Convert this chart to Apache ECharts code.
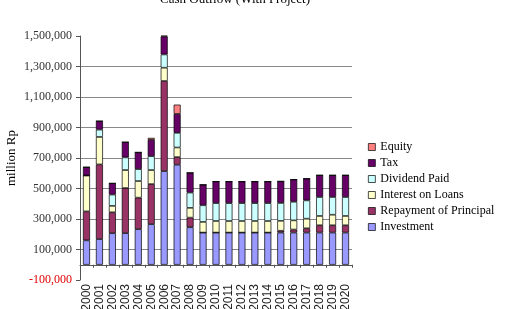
<!DOCTYPE html>
<html>
<head>
<meta charset="utf-8">
<script src="https://cdn.jsdelivr.net/npm/echarts@6/dist/echarts.min.js"></script>
<style>
  html, body { margin: 0; padding: 0; background: #fff; }
  #chart { width: 507px; height: 309px; }
</style>
</head>
<body>
<div id="chart"></div>
<script>
const years = ["2000", "2001", "2002", "2003", "2004", "2005", "2006", "2007", "2008", "2009", "2010",
    "2011", "2012", "2013", "2014", "2015", "2016", "2017", "2018", "2019", "2020"];

// million Rp
const investment = [160000, 168000, 207000, 207000, 233000, 266000, 614000, 656000, 246000, 211000, 211000,
    211000, 211000, 211000, 211000, 211000, 211000, 211000, 211000, 211000, 211000];
const repayment = [190000, 490000, 137000, 296000, 207000, 263000, 591000, 50000, 63000, 0, 0,
    0, 0, 0, 0, 12000, 20000, 28000, 48000, 48000, 48000];
const interest = [235000, 180000, 42000, 118000, 109000, 92000, 87000, 63000, 64000, 70000, 76000,
    76000, 76000, 76000, 76000, 65000, 60000, 63000, 61000, 69000, 61000];
const dividend = [0, 48000, 74000, 83000, 78000, 91000, 87000, 96000, 100000, 109000, 117000,
    117000, 117000, 117000, 117000, 117000, 122000, 120000, 124000, 116000, 124000];
const tax = [55000, 56000, 74000, 100000, 110000, 107000, 118000, 124000, 130000, 135000, 142000,
    142000, 142000, 142000, 142000, 142000, 146000, 143000, 143000, 143000, 143000];
const equity = [0, 0, 0, 0, 0, 13000, 17000, 61000, 0, 0, 0,
    0, 0, 0, 0, 0, 0, 0, 0, 0, 0];

const chart = echarts.init(document.getElementById("chart"));
const serif = "'Liberation Serif', 'DejaVu Serif', serif";

function fmt(v) {
    return Number(v).toLocaleString("en-US");
}

function stackSeries(name, data, color) {
    return {
        name: name,
        type: "bar",
        stack: "out",
        barWidth: 7,
        data: data,
        itemStyle: { color: color, borderColor: "#000", borderWidth: 0.7 }
    };
}

const option = {
    animation: false,
    title: {
        text: "Cash Outflow (With Project)",
        left: 160,
        top: -7,
        padding: 0,
        textStyle: { fontFamily: serif, fontSize: 13, fontWeight: "normal", color: "#000" }
    },
    legend: {
        orient: "vertical",
        left: 363,
        top: 136,
        itemWidth: 7,
        itemHeight: 7,
        itemGap: 4,
        icon: "rect",
        itemStyle: { borderColor: "#000", borderWidth: 0.7 },
        textStyle: { fontFamily: serif, fontSize: 12, color: "#000", lineHeight: 12 },
        data: ["Equity", "Tax", "Dividend Paid", "Interest on Loans", "Repayment of Principal", "Investment"]
    },
    grid: { left: 80, right: 155, top: 36, bottom: 29, outerBoundsMode: "none" },
    xAxis: {
        type: "category",
        data: years,
        axisLine: { onZero: true, lineStyle: { color: "#555" } },
        axisTick: { show: true, length: 3, lineStyle: { color: "#555" } },
        axisLabel: {
            rotate: 90,
            margin: 4,
            fontFamily: "'Liberation Sans', Arial, sans-serif",
            fontSize: 12,
            color: "#222",
            interval: 0
        }
    },
    yAxis: {
        type: "value",
        min: -100000,
        max: 1500000,
        interval: 200000,
        name: "million Rp",
        nameLocation: "middle",
        nameGap: 62,
        nameMoveOverlap: false,
        nameTextStyle: { fontFamily: serif, fontSize: 13, color: "#000" },
        axisLine: { show: true, lineStyle: { color: "#555" } },
        axisTick: { show: true, length: 4, lineStyle: { color: "#555" } },
        axisLabel: {
            margin: 8,
            fontFamily: serif,
            fontSize: 12,
            formatter: fmt,
            color: function (v) {
                return Number(v) < 0 ? "#e00000" : "#333";
            }
        },
        splitLine: {
            show: true,
            showMinLine: false,
            showMaxLine: false,
            lineStyle: { color: "#888", width: 1 }
        }
    },
    series: [
        stackSeries("Investment", investment, "#9999ff"),
        stackSeries("Repayment of Principal", repayment, "#993366"),
        stackSeries("Interest on Loans", interest, "#ffffcc"),
        stackSeries("Dividend Paid", dividend, "#ccffff"),
        stackSeries("Tax", tax, "#660066"),
        stackSeries("Equity", equity, "#ff8080")
    ]
};

chart.setOption(option);
window.addEventListener("resize", () => chart.resize());
</script>
</body>
</html>
